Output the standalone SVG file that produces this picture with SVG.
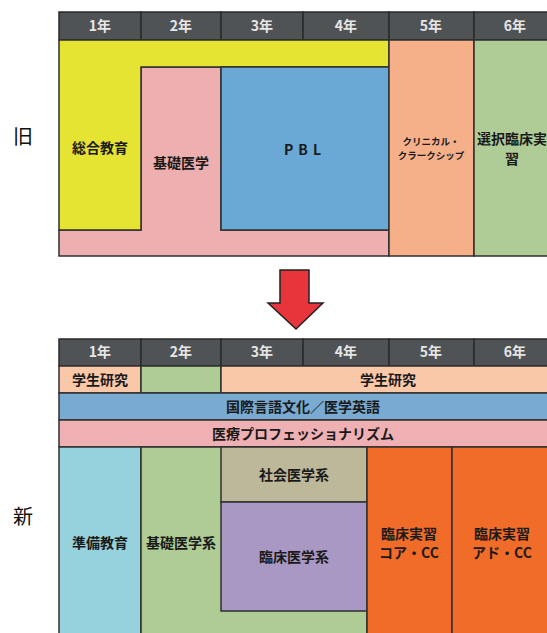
<svg xmlns="http://www.w3.org/2000/svg" width="547" height="633" viewBox="0 0 547 633">
<style>
.hd{fill:#505355;stroke:#2a2a2a;stroke-width:1.5}
.ht{fill:#e6e6e6;font-family:"Noto Sans CJK JP","Liberation Sans",sans-serif;font-size:14px;font-weight:bold;text-anchor:middle}
.c{stroke:#2f2f2f;stroke-width:1.5}
.t{fill:#1a1a1a;font-family:"Noto Sans CJK JP",sans-serif;font-size:14px;font-weight:bold;text-anchor:middle}
.s{fill:#1a1a1a;font-family:"Noto Sans CJK JP",sans-serif;font-size:9.5px;font-weight:bold;text-anchor:middle}
.lb{fill:#111;font-family:"Noto Sans CJK JP",sans-serif;font-size:20px;text-anchor:middle}
</style>
<rect width="547" height="633" fill="#fff"/>
<g id="label-old"><text class="lb" x="23" y="144">旧</text></g>
<g id="label-new"><text class="lb" x="23" y="524">新</text></g>
<g id="old-header">
<rect class="hd" x="59" y="12" width="82" height="28"/><text class="ht" x="100" y="31">1年</text>
<rect class="hd" x="141" y="12" width="80" height="28"/><text class="ht" x="181" y="31">2年</text>
<rect class="hd" x="221" y="12" width="82" height="28"/><text class="ht" x="262" y="31">3年</text>
<rect class="hd" x="303" y="12" width="86" height="28"/><text class="ht" x="346" y="31">4年</text>
<rect class="hd" x="389" y="12" width="85" height="28"/><text class="ht" x="431" y="31">5年</text>
<rect class="hd" x="474" y="12" width="83" height="28"/><text class="ht" x="515" y="31">6年</text>
</g>
<g id="old-pink">
<path class="c" fill="#eeafb0" d="M141 67H221V230H389V256H59V230H141Z"/>
<text class="t" x="181" y="168">基礎医学</text>
</g>
<g id="old-yellow">
<path class="c" fill="#e6e432" d="M59 40H389V67H141V230H59Z"/>
<text class="t" x="100" y="153">総合教育</text>
</g>
<g id="old-pbl">
<rect class="c" fill="#6aa8d5" x="221" y="67" width="168" height="163"/>
<text class="t" x="305" y="155" font-size="15" letter-spacing="5">PBL</text>
</g>
<g id="old-cc">
<rect class="c" fill="#f5b08a" x="389" y="40" width="85" height="216"/>
<text class="s" x="431" y="145">クリニカル・</text>
<text class="s" x="431" y="159">クラークシップ</text>
</g>
<g id="old-elective">
<rect class="c" fill="#b0cc96" x="474" y="40" width="83" height="216"/>
<text class="t" x="512" y="144" font-size="12">選択臨床実</text>
<text class="t" x="512" y="164" font-size="12">習</text>
</g>
<g id="connectors">
<path d="M280 270H309V303H323L296 329L268 303H280Z" fill="#e8353b" stroke="#222" stroke-width="1.5"/>
</g>
<g id="new-header">
<rect class="hd" x="59" y="339" width="82" height="27"/><text class="ht" x="100" y="357">1年</text>
<rect class="hd" x="141" y="339" width="80" height="27"/><text class="ht" x="181" y="357">2年</text>
<rect class="hd" x="221" y="339" width="82" height="27"/><text class="ht" x="262" y="357">3年</text>
<rect class="hd" x="303" y="339" width="86" height="27"/><text class="ht" x="346" y="357">4年</text>
<rect class="hd" x="389" y="339" width="85" height="27"/><text class="ht" x="431" y="357">5年</text>
<rect class="hd" x="474" y="339" width="83" height="27"/><text class="ht" x="515" y="357">6年</text>
</g>
<g id="new-research">
<rect class="c" fill="#f9c8a8" x="59" y="366" width="82" height="27"/>
<text class="t" x="100" y="385">学生研究</text>
<rect class="c" fill="#afcc95" x="141" y="366" width="80" height="27"/>
<rect class="c" fill="#f9c8a8" x="221" y="366" width="336" height="27"/>
<text class="t" x="388" y="385">学生研究</text>
</g>
<g id="new-language">
<rect class="c" fill="#78aad2" x="59" y="393" width="498" height="27"/>
<text class="t" x="303" y="412">国際言語文化／医学英語</text>
</g>
<g id="new-professionalism">
<rect class="c" fill="#eeb0b2" x="59" y="420" width="498" height="27"/>
<text class="t" x="303" y="439">医療プロフェッショナリズム</text>
</g>
<g id="new-prep">
<rect class="c" fill="#95d2dd" x="59" y="447" width="82" height="200"/>
<text class="t" x="100" y="548">準備教育</text>
</g>
<g id="new-basic">
<rect class="c" fill="#afcc95" x="141" y="447" width="226" height="200"/>
<text class="t" x="181" y="548">基礎医学系</text>
</g>
<g id="new-social">
<rect class="c" fill="#bdb899" x="221" y="447" width="146" height="55"/>
<text class="t" x="294" y="480">社会医学系</text>
</g>
<g id="new-clinical">
<rect class="c" fill="#a898c3" x="221" y="502" width="146" height="109"/>
<text class="t" x="294" y="562">臨床医学系</text>
</g>
<g id="new-core-cc">
<rect class="c" fill="#f16c28" x="367" y="447" width="85" height="200"/>
<text class="t" x="409" y="539">臨床実習</text>
<text class="t" x="409" y="558">コア・CC</text>
</g>
<g id="new-adv-cc">
<rect class="c" fill="#f16c28" x="452" y="447" width="105" height="200"/>
<text class="t" x="502" y="539">臨床実習</text>
<text class="t" x="502" y="558">アド・CC</text>
</g>
</svg>
